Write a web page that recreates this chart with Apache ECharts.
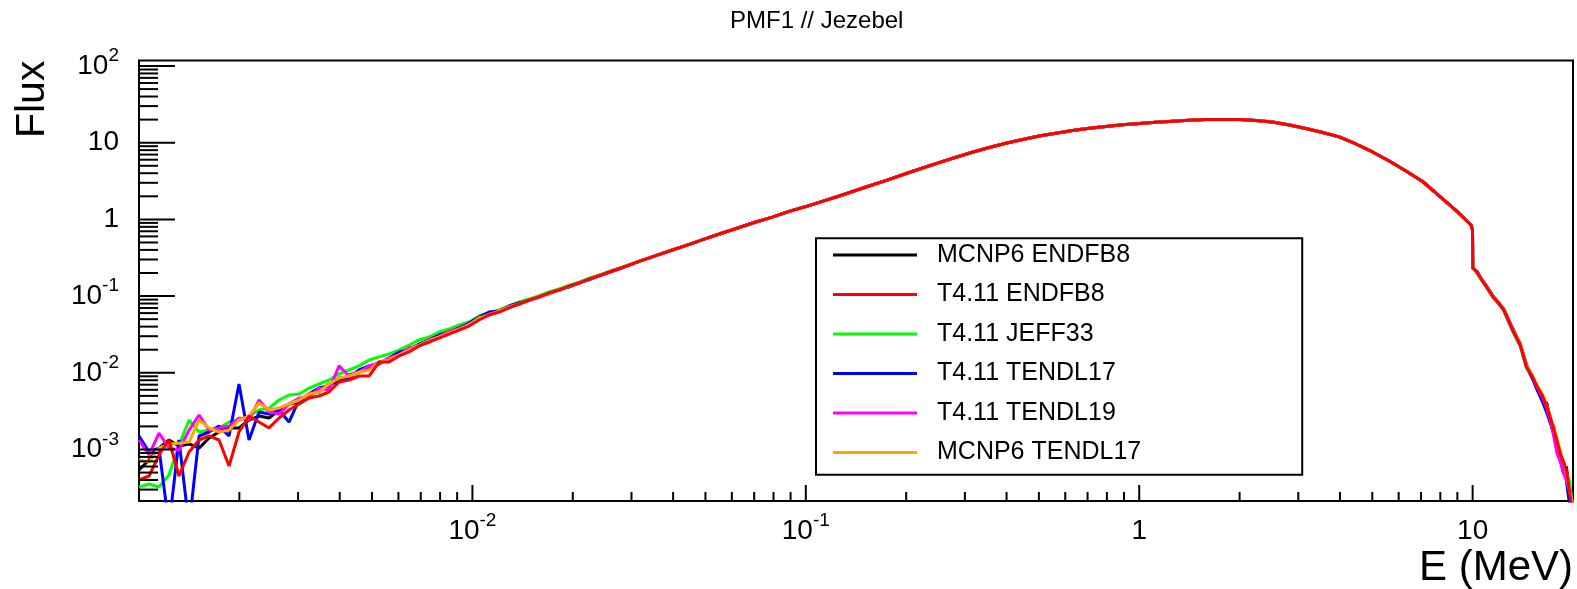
<!DOCTYPE html>
<html><head><meta charset="utf-8">
<script src="https://cdn.jsdelivr.net/npm/echarts@6/dist/echarts.min.js"></script>
<style>html,body{margin:0;padding:0;background:#fff}#c{width:1577px;height:589px}</style>
</head><body><div id="c"></div>
<script>
const TITLE = 'PMF1 // Jezebel';
const X_NAME = 'E (MeV)';
const Y_NAME = 'Flux';
const SERIES_NAMES = ['MCNP6 ENDFB8','T4.11 ENDFB8','T4.11 JEFF33','T4.11 TENDL17','T4.11 TENDL19','MCNP6 TENDL17'];
const SERIES_COLORS = ['#000000','#ff0000','#00ff00','#0000ff','#ff00ff','#ffa500'];
const X_MIN = 0.001, X_MAX = 20;
const Y_MIN = 2.13e-4, Y_MAX = 117.6;

// Energy grid (MeV)
const E_LOW = [0.001,0.001072,0.001148,0.00123,0.001318,0.001413,0.001514,0.001622,0.001738,0.001862,0.001995,0.002138,0.002291,0.002455,0.00263,0.002818,0.00302,0.003236,0.003467,0.003715,0.003981,0.004266,0.004571,0.004898,0.005248,0.005623,0.006026,0.006457,0.006918,0.007413,0.007943,0.008511,0.00912,0.009772,0.01047,0.01122,0.01202,0.01288,0.0138,0.01479,0.01585,0.01698,0.0182,0.0195,0.02089,0.02239,0.02399,0.0257,0.02754,0.02951];
const E_HIGH = [0.0316,0.0355,0.0398,0.0447,0.0501,0.0562,0.0631,0.0708,0.0794,0.0891,0.1,0.112,0.126,0.141,0.158,0.178,0.2,0.224,0.251,0.282,0.316,0.355,0.398,0.447,0.501,0.562,0.631,0.708,0.794,0.891,1.0,1.12,1.26,1.41,1.58,1.78,2.0,2.24,2.51,2.82,3.16,3.55,3.98,4.47,5.01,5.62,6.31,7.08,7.94,8.91,9.89,9.99];
const E_TAIL = [10.01,10.3,10.6,11.0,11.5,12.0,12.4,13.2,13.9,14.5,15.1,15.6,16.2,16.7,17.1,17.5,17.9,18.3,18.7,19.1,19.5,19.9];

// Low-energy (noisy) flux per series, first 39 grid points
const LOW_MCNP6_ENDFB8 = [0.000540,0.000729,0.00104,0.00133,0.00111,0.00118,0.00104,0.00141,0.00169,0.00191,0.00191,0.00242,0.00273,0.00257,0.00327,0.00392,0.00416,0.00529,0.00562,0.00714,0.00758,0.00936,0.0102,0.0115,0.0138,0.0142,0.0171,0.0204,0.0230,0.0252,0.0302,0.0340,0.0384,0.0433,0.0518,0.0584,0.0639,0.0721,0.0789];
const LOW_T411_ENDFB8 = [0.000400,0.000451,0.000847,0.00133,0.000451,0.000927,0.00133,0.00150,0.00133,0.000609,0.00169,0.00273,0.00228,0.00191,0.00257,0.00327,0.00392,0.00469,0.00498,0.00562,0.00758,0.00805,0.00908,0.00908,0.0138,0.0138,0.0166,0.0187,0.0224,0.0252,0.0284,0.0320,0.0361,0.0407,0.0488,0.0567,0.0620,0.0700,0.0789];
const LOW_T411_JEFF33 = [0.000324,0.000355,0.000324,0.000465,0.00114,0.00242,0.00169,0.00179,0.00191,0.00228,0.00242,0.00273,0.00327,0.00347,0.00442,0.00513,0.00529,0.00633,0.00714,0.00805,0.00964,0.0109,0.0123,0.0147,0.0161,0.0176,0.0198,0.0230,0.0268,0.0293,0.0340,0.0372,0.0420,0.0459,0.0550,0.0602,0.0659,0.0743,0.0838];
const LOW_T411_TENDL17 = [0.00150,0.000927,0.00104,0.0001,0.00133,0.0001,0.00150,0.00169,0.00202,0.00150,0.00714,0.00133,0.00308,0.00290,0.00327,0.00228,0.00442,0.00529,0.00633,0.00672,0.00855,0.00855,0.0109,0.0123,0.0130,0.0156,0.0187,0.0198,0.0237,0.0268,0.0311,0.0340,0.0384,0.0446,0.0534,0.0620,0.0639,0.0743,0.0813];
const LOW_T411_TENDL19 = [0.00133,0.000847,0.00164,0.00104,0.000984,0.00179,0.00282,0.00179,0.00191,0.00202,0.00257,0.00242,0.00442,0.00308,0.00290,0.00392,0.00469,0.00469,0.00633,0.00596,0.0123,0.00908,0.0102,0.0123,0.0134,0.0156,0.0171,0.0210,0.0224,0.0268,0.0293,0.0351,0.0372,0.0433,0.0503,0.0584,0.0620,0.0721,0.0789];
const LOW_MCNP6_TENDL17 = [0.000729,0.000687,0.00104,0.00118,0.00121,0.00125,0.00242,0.00191,0.00169,0.00179,0.00242,0.00273,0.00404,0.00327,0.00347,0.00392,0.00442,0.00529,0.00562,0.00714,0.00855,0.00908,0.0102,0.0109,0.0138,0.0147,0.0171,0.0198,0.0230,0.0260,0.0293,0.0330,0.0372,0.0420,0.0518,0.0567,0.0639,0.0721,0.0789];

// 0.015 - 0.03 MeV, per series (small differences)
const MID_MCNP6_ENDFB8 = [0.0889,0.0988,0.110,0.122,0.135,0.150,0.167,0.186,0.206,0.229,0.254];
const MID_T411_ENDFB8 = [0.0889,0.0975,0.110,0.120,0.135,0.148,0.167,0.184,0.206,0.227,0.254];
const MID_T411_JEFF33 = [0.0915,0.101,0.113,0.124,0.139,0.152,0.171,0.188,0.210,0.231,0.258];
const MID_T411_TENDL17 = [0.0870,0.0988,0.107,0.122,0.131,0.150,0.163,0.186,0.203,0.229,0.251];
const MID_T411_TENDL19 = [0.0889,0.0960,0.110,0.119,0.135,0.146,0.167,0.182,0.206,0.224,0.254];
const MID_MCNP6_TENDL17 = [0.0880,0.0988,0.109,0.122,0.134,0.150,0.166,0.186,0.205,0.229,0.253];

// Shared part above 0.03 MeV (curves coincide)
const HIGH_COMMON = [0.283,0.337,0.399,0.473,0.562,0.665,0.784,0.925,1.07,1.27,1.47,1.72,2.02,2.38,2.81,3.33,3.97,4.68,5.50,6.45,7.50,8.66,9.85,11.0,12.2,13.3,14.4,15.4,16.3,17.1,17.8,18.5,19.1,19.6,20.0,20.1,20.1,19.5,18.6,17.0,15.3,13.6,11.9,9.62,7.57,5.77,4.28,3.12,2.02,1.31,0.845,0.727];

// Tail above 10 MeV per series
const TAIL_MCNP6_ENDFB8 = [0.232,0.21,0.17,0.135,0.10,0.080,0.068,0.037,0.024,0.012,0.0085,0.0068,0.0045,0.0040,0.0024,0.0020,0.0012,0.0009,0.0005,0.0006,0.0003,0.0002];
const TAIL_T411_ENDFB8 = [0.232,0.205,0.168,0.133,0.098,0.080,0.066,0.036,0.023,0.012,0.0090,0.0066,0.0050,0.0036,0.0026,0.0018,0.0013,0.00089,0.0007,0.00054,0.0003,0.00015];
const TAIL_T411_JEFF33 = [0.232,0.20,0.165,0.13,0.096,0.078,0.064,0.034,0.022,0.0115,0.0088,0.0062,0.0048,0.0034,0.0025,0.0017,0.0013,0.0010,0.0006,0.0005,0.0004,0.0002];
const TAIL_T411_TENDL17 = [0.232,0.21,0.17,0.136,0.10,0.082,0.066,0.038,0.023,0.013,0.0085,0.0060,0.0042,0.0030,0.0022,0.0016,0.0011,0.0008,0.0006,0.0004,0.0002,0.0001];
const TAIL_T411_TENDL19 = [0.232,0.205,0.168,0.132,0.098,0.079,0.065,0.035,0.023,0.012,0.0092,0.0065,0.0048,0.0034,0.0024,0.0015,0.0009,0.0007,0.0005,0.0004,0.0003,0.0002];
const TAIL_MCNP6_TENDL17 = [0.232,0.205,0.17,0.134,0.099,0.081,0.067,0.037,0.024,0.0125,0.0092,0.0068,0.0052,0.0037,0.0027,0.0019,0.0014,0.0009,0.0007,0.0005,0.0003,0.0002];

// Tick definitions
const X_MAJOR = [0.01,0.1,1,10];
const Y_MAJOR = [0.001,0.01,0.1,1,10,100];
const MINOR_MULT = [2,3,4,5,6,7,8,9];
const X_DECADES = [0.001,0.01,0.1,1];
const Y_DECADES = [0.0001,0.001,0.01,0.1,1,10];

const E_ALL = [...E_LOW, ...E_HIGH, ...E_TAIL];
const LOWS = [LOW_MCNP6_ENDFB8, LOW_T411_ENDFB8, LOW_T411_JEFF33, LOW_T411_TENDL17, LOW_T411_TENDL19, LOW_MCNP6_TENDL17];
const MIDS = [MID_MCNP6_ENDFB8, MID_T411_ENDFB8, MID_T411_JEFF33, MID_T411_TENDL17, MID_T411_TENDL19, MID_MCNP6_TENDL17];
const TAILS = [TAIL_MCNP6_ENDFB8, TAIL_T411_ENDFB8, TAIL_T411_JEFF33, TAIL_T411_TENDL17, TAIL_T411_TENDL19, TAIL_MCNP6_TENDL17];

const X_MINOR = [];
X_DECADES.forEach(d => MINOR_MULT.forEach(m => { const v = +(d*m).toPrecision(3); if (v > X_MIN && v < X_MAX) X_MINOR.push(v); }));
const Y_MINOR = [];
Y_DECADES.forEach(d => MINOR_MULT.forEach(m => { const v = +(d*m).toPrecision(3); if (v > Y_MIN && v < Y_MAX) Y_MINOR.push(v); }));

const FONT = 'Liberation Sans, Arial, Helvetica, sans-serif';

function powLabel(v, hideExp) {
  const e = Math.log10(v);
  const r = Math.round(e);
  if (Math.abs(e - r) > 1e-6) return '';
  if (hideExp.indexOf(r) >= 0) return '';
  if (r === 0) return '{b|1}';
  if (r === 1) return '{b|10}';
  return '{b|10}{s|' + (r < 0 ? '-' + (-r) : r) + '}';
}
const RICH = {
  b: {fontSize: 28, fontFamily: FONT, color: '#000'},
  s: {fontSize: 19, fontFamily: FONT, color: '#000', padding: [0, 0, 20, 0]}
};

function tickSeries(values, axis, len, width) {
  return {
    type: 'custom', silent: true, clip: false, z: 6, animation: false,
    data: values.map(v => axis === 'x' ? [v, Y_MIN] : [X_MIN, v]),
    renderItem: (params, api) => {
      const p = api.coord([api.value(0), api.value(1)]);
      const shape = axis === 'x'
        ? {x1: p[0], y1: p[1], x2: p[0], y2: p[1] - len}
        : {x1: p[0], y1: p[1], x2: p[0] + len, y2: p[1]};
      return {type: 'line', shape: shape, style: {stroke: '#000', lineWidth: width}};
    }
  };
}

const lineSeries = SERIES_NAMES.map((name, i) => {
  const flux = [...LOWS[i], ...MIDS[i], ...HIGH_COMMON, ...TAILS[i]];
  return {
    type: 'line', name: name,
    data: E_ALL.map((e, j) => [e, flux[j]]),
    showSymbol: false, symbol: 'none', clip: true,
    z: name === 'T4.11 ENDFB8' ? 4 : 3,
    color: SERIES_COLORS[i],
    lineStyle: {width: 3, color: SERIES_COLORS[i]},
    itemStyle: {color: SERIES_COLORS[i]},
    animation: false
  };
});

const chart = echarts.init(document.getElementById('c'));
chart.setOption({
  animation: false,
  backgroundColor: '#fff',
  title: {
    text: TITLE, left: 730, top: 9, padding: 0,
    textStyle: {fontSize: 24, fontWeight: 'normal', fontFamily: FONT, color: '#000'}
  },
  grid: {
    left: 139, right: 4, top: 60.6, bottom: 88,
    show: true, borderColor: '#000', borderWidth: 2, backgroundColor: 'transparent',
    containLabel: false, outerBoundsMode: 'none'
  },
  xAxis: {
    type: 'log', logBase: 10, min: X_MIN, max: X_MAX,
    axisLine: {show: false}, axisTick: {show: false}, splitLine: {show: false}, minorTick: {show: false},
    axisLabel: {
      margin: 30, verticalAlign: 'middle', showMinLabel: false, showMaxLabel: false,
      formatter: v => powLabel(v, [-3]), rich: RICH
    }
  },
  yAxis: {
    type: 'log', logBase: 10, min: Y_MIN, max: Y_MAX,
    axisLine: {show: false}, axisTick: {show: false}, splitLine: {show: false}, minorTick: {show: false},
    axisLabel: {
      margin: 20, showMinLabel: false, showMaxLabel: false,
      formatter: v => powLabel(v, []), rich: RICH
    }
  },
  legend: {
    orient: 'vertical', left: 816, top: 238.3,
    data: SERIES_NAMES, icon: 'rect', itemWidth: 84, itemHeight: 3, itemGap: 14.5,
    padding: [4.2, 161, 9.8, 17],
    backgroundColor: '#fff', borderColor: '#000', borderWidth: 2, borderRadius: 0,
    selectedMode: false,
    textStyle: {fontSize: 25, fontFamily: FONT, color: '#000', padding: [0, 0, 0, 15]},
    z: 10
  },
  graphic: [
    {type: 'text', x: 32.5, y: 60.6, rotation: Math.PI / 2,
     style: {text: Y_NAME, fontSize: 41, fontFamily: FONT, fill: '#000', align: 'right', textAlign: 'right', verticalAlign: 'middle', textVerticalAlign: 'middle'}},
    {type: 'text', x: 1573, y: 568,
     style: {text: X_NAME, fontSize: 42, fontFamily: FONT, fill: '#000', align: 'right', textAlign: 'right', verticalAlign: 'middle', textVerticalAlign: 'middle'}}
  ],
  series: [
    ...lineSeries,
    tickSeries(X_MAJOR, 'x', 16, 2),
    tickSeries(X_MINOR, 'x', 9, 2),
    tickSeries(Y_MAJOR, 'y', 36, 2),
    tickSeries(Y_MINOR, 'y', 19, 2)
  ]
});
</script>
</body></html>
